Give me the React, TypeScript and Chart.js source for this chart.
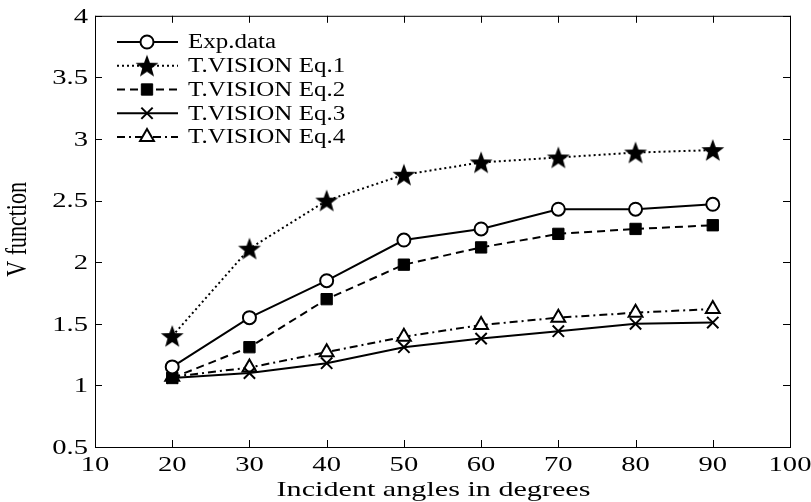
import React, { useEffect, useRef } from "react";
import { Chart, registerables } from "chart.js";
import { drawPoint } from "chart.js/helpers";

Chart.register(...registerables);

const angles = [20, 30, 40, 50, 60, 70, 80, 90];
const expData = [1.15, 1.55, 1.85, 2.18, 2.27, 2.43, 2.43, 2.47];
const eq1 = [1.4, 2.11, 2.5, 2.71, 2.81, 2.85, 2.89, 2.91];
const eq2 = [1.06, 1.31, 1.7, 1.98, 2.12, 2.23, 2.27, 2.3];
const eq3 = [1.06, 1.1, 1.18, 1.31, 1.38, 1.44, 1.5, 1.51];
const eq4 = [1.07, 1.145, 1.27, 1.395, 1.49, 1.55, 1.59, 1.62];
const seriesLabels = ["Exp.data", "T.VISION Eq.1", "T.VISION Eq.2", "T.VISION Eq.3", "T.VISION Eq.4"];
const xTitle = "Incident angles in degrees";
const yTitle = "V function";

const FONT = "'Liberation Serif', 'Times New Roman', serif";

function makeStar(): HTMLCanvasElement {
  const c = document.createElement("canvas");
  const s = 26;
  c.width = s;
  c.height = s;
  const ctx = c.getContext("2d")!;
  const cx = s / 2, cy = s / 2 + 1;
  const R = 12, r = 5;
  ctx.beginPath();
  for (let i = 0; i < 10; i++) {
    const rad = i % 2 === 0 ? R : r;
    const a = -Math.PI / 2 + (i * Math.PI) / 5;
    const px = cx + rad * Math.cos(a);
    const py = cy + rad * Math.sin(a);
    if (i === 0) ctx.moveTo(px, py);
    else ctx.lineTo(px, py);
  }
  ctx.closePath();
  ctx.fillStyle = "#000";
  ctx.fill();
  return c;
}

function stretchText(ctx: CanvasRenderingContext2D, text: string, x: number, y: number, align: CanvasTextAlign, size: number, sx: number, rotate = 0) {
  ctx.save();
  ctx.translate(x, y);
  ctx.scale(sx, 1);
  if (rotate) ctx.rotate(rotate);
  ctx.font = `${size}px ${FONT}`;
  ctx.fillStyle = "#000";
  ctx.textAlign = align;
  ctx.textBaseline = "middle";
  ctx.fillText(text, 0, 0);
  ctx.restore();
}

const boxPlugin = {
  id: "boxTicks",
  afterDraw(chart: any) {
    const { ctx, chartArea: a, scales } = chart;
    ctx.save();
    ctx.strokeStyle = "#000";
    ctx.lineWidth = 1;
    ctx.strokeRect(a.left + 0.5, a.top + 0.5, a.right - a.left, a.bottom - a.top);
    const L = 7;
    ctx.beginPath();
    scales.x.ticks.forEach((t: any) => {
      const px = Math.round(scales.x.getPixelForValue(t.value)) + 0.5;
      ctx.moveTo(px, a.bottom);
      ctx.lineTo(px, a.bottom - L);
      ctx.moveTo(px, a.top);
      ctx.lineTo(px, a.top + L);
    });
    scales.y.ticks.forEach((t: any) => {
      const py = Math.round(scales.y.getPixelForValue(t.value)) + 0.5;
      ctx.moveTo(a.left, py);
      ctx.lineTo(a.left + L, py);
      ctx.moveTo(a.right, py);
      ctx.lineTo(a.right - L, py);
    });
    ctx.stroke();
    ctx.restore();

    // tick labels (horizontally stretched like the reference)
    scales.x.ticks.forEach((t: any) => {
      const px = scales.x.getPixelForValue(t.value);
      stretchText(ctx, String(t.value), px, a.bottom + 18, "center", 22, 1.3);
    });
    scales.y.ticks.forEach((t: any) => {
      const py = scales.y.getPixelForValue(t.value);
      stretchText(ctx, String(t.value), a.left - 7, py + 1, "right", 22, 1.3);
    });
    // axis titles
    stretchText(ctx, xTitle, (a.left + a.right) / 2 - 9, 490, "center", 22, 1.37);
    stretchText(ctx, yTitle, 18, (a.top + a.bottom) / 2 - 2, "center", 22, 1.3, -Math.PI / 2);
  },
};

const legendPlugin = {
  id: "lineLegend",
  afterDraw(chart: any) {
    const { ctx } = chart;
    const x0 = 117, x1 = 178, xm = 147, xt = 188;
    const y0 = 42, dy = 23.75;
    ctx.save();
    chart.data.datasets.forEach((ds: any, i: number) => {
      const y = y0 + i * dy;
      ctx.beginPath();
      ctx.setLineDash(ds.borderDash || []);
      ctx.strokeStyle = "#000";
      ctx.lineWidth = ds.borderWidth;
      ctx.moveTo(x0, y);
      ctx.lineTo(x1, y);
      ctx.stroke();
      ctx.setLineDash([]);
      ctx.fillStyle = ds.pointBackgroundColor;
      ctx.strokeStyle = "#000";
      ctx.lineWidth = ds.pointBorderWidth;
      drawPoint(ctx, { pointStyle: ds.pointStyle, radius: ds.pointRadius, rotation: 0, borderWidth: ds.pointBorderWidth }, xm, y);
      stretchText(ctx, ds.label, xt, y + 1, "left", 20, 1.25);
    });
    ctx.restore();
  },
};

export default function App() {
  const ref = useRef<HTMLCanvasElement | null>(null);
  useEffect(() => {
    document.body.style.margin = "0";
    const star = makeStar();
    const pts = (vals: number[]) => angles.map((x, i) => ({ x, y: vals[i] }));
    const base = { borderColor: "#000", borderWidth: 2, pointBorderColor: "#000", pointBorderWidth: 2, fill: false, tension: 0 };
    const chart = new Chart(ref.current!, {
      type: "line",
      data: {
        datasets: [
          { ...base, label: seriesLabels[0], data: pts(expData), pointStyle: "circle", pointRadius: 6.5, pointBackgroundColor: "#fff" },
          { ...base, label: seriesLabels[1], data: pts(eq1), borderDash: [2, 3], pointStyle: star, pointRadius: 12, pointBackgroundColor: "#000" },
          { ...base, label: seriesLabels[2], data: pts(eq2), borderDash: [8, 5], pointStyle: "rect", pointRadius: 8, pointBorderWidth: 1, pointBackgroundColor: "#000" },
          { ...base, label: seriesLabels[3], data: pts(eq3), pointStyle: "crossRot", pointRadius: 8, pointBackgroundColor: "#000" },
          { ...base, label: seriesLabels[4], data: pts(eq4), borderDash: [8, 4, 2, 4], pointStyle: "triangle", pointRadius: 8, pointBackgroundColor: "#fff" },
        ] as any,
      },
      options: {
        animation: false,
        responsive: false,
        layout: { padding: { top: 13, right: 21, left: 0, bottom: 0 } },
        plugins: { legend: { display: false }, tooltip: { enabled: false } },
        scales: {
          x: {
            type: "linear",
            min: 10,
            max: 100,
            grid: { display: false, drawTicks: false },
            border: { display: false },
            ticks: { stepSize: 10, autoSkip: false, color: "rgba(0,0,0,0)", font: { family: FONT, size: 18 }, padding: 7, maxRotation: 0 },
            title: { display: false, text: xTitle },
            afterFit: (s: any) => { s.height = 55; },
          },
          y: {
            type: "linear",
            min: 0.5,
            max: 4,
            grid: { display: false, drawTicks: false },
            border: { display: false },
            ticks: { stepSize: 0.5, autoSkip: false, color: "rgba(0,0,0,0)", font: { family: FONT, size: 18 }, padding: 5 },
            title: { display: false, text: yTitle },
            afterFit: (s: any) => { s.width = 95; },
          },
        },
      } as any,
      plugins: [boxPlugin, legendPlugin],
    });
    return () => chart.destroy();
  }, []);
  return <canvas ref={ref} width={811} height={502} style={{ display: "block" }} />;
}
